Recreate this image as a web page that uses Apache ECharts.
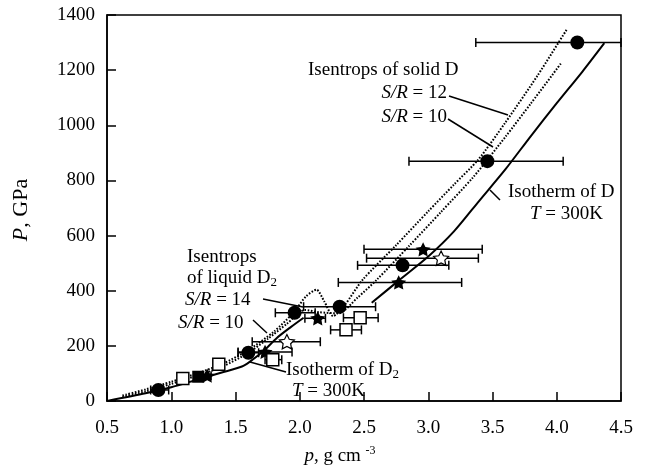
<!DOCTYPE html>
<html>
<head>
<meta charset="utf-8">
<script src="https://cdn.jsdelivr.net/npm/echarts@6/dist/echarts.min.js"></script>
<style>html,body{margin:0;padding:0;background:#fff}#c{width:653px;height:470px}</style>
</head>
<body>
<div id="c"></div>
<script>
// ---- axis ticks ----
const xMin = 0.5, xMax = 4.5, xStep = 0.5;
const yMin = 0, yMax = 1400, yStep = 200;

// ---- curves ----
const isothermD2 = [[0.5,0],[0.8,28],[1.0,50],[1.2,77],[1.4,104],[1.55,125],[1.61,142],[1.72,182],[1.82,228],[1.93,268],[2.03,302]];
const isothermD = [[2.56,356],[2.76,433],[3.0,524],[3.2,615],[3.4,728],[3.6,840],[3.8,962],[4.0,1080],[4.2,1195],[4.37,1298]];
const isentropS14 = [[0.62,20],[0.8,42],[1.0,70],[1.2,100],[1.4,135],[1.6,185],[1.8,252],[1.95,320],[2.05,380],[2.13,404],[2.19,362],[2.26,308],[2.35,348],[2.49,440],[2.75,565],[3.0,688],[3.2,785],[3.39,876],[3.6,1010],[3.85,1180],[4.08,1349]];
const isentropS10 = [[0.62,15],[0.8,35],[1.0,62],[1.2,92],[1.4,125],[1.6,175],[1.75,225],[1.9,280],[2.04,330],[2.15,322],[2.3,318],[2.45,375],[2.6,440],[2.85,562],[3.1,686],[3.35,812],[3.6,958],[3.8,1080],[4.04,1229]];

// ---- data points [x, y] and horizontal error ranges [lo, hi] ----
const filledCircles = [[0.9,40],[1.6,175],[1.96,320],[2.31,342],[2.8,492],[3.46,870],[4.16,1300]];
const filledCirclesErr = [[0.84,0.98],[1.52,1.68],[1.81,2.12],[2.03,2.59],[2.45,3.16],[2.85,4.05],[3.37,4.5]];
const filledStars = [[1.28,92],[1.73,178],[2.14,300],[2.77,430],[2.96,550]];
const filledStarsErr = [[1.25,1.31],[1.52,1.94],[2.04,2.2],[2.30,3.26],[2.5,3.42]];
const openStars = [[1.9,215],[3.1,518]];
const openStarsErr = [[1.63,2.16],[2.52,3.39]];
const openSquares = [[1.09,82],[1.37,133],[1.79,150],[2.36,258],[2.47,302]];
const openSquaresErr = [null,null,[1.73,1.86],[2.24,2.48],[2.34,2.61]];
const filledSquares = [[1.21,88]];

const FONT = '"Liberation Serif","DejaVu Serif",serif';
const STAR = 'path://M0,-10L2.94,-4.05L9.51,-3.09L4.76,1.55L5.88,8.09L0,5L-5.88,8.09L-4.76,1.55L-9.51,-3.09L-2.94,-4.05Z';

function errRows(pts, errs) {
  const rows = [];
  pts.forEach((p, i) => { if (errs[i]) rows.push([p[1], errs[i][0], errs[i][1]]); });
  return rows;
}
const errData = [].concat(
  errRows(filledCircles, filledCirclesErr),
  errRows(filledStars, filledStarsErr),
  errRows(openStars, openStarsErr),
  errRows(openSquares, openSquaresErr)
);

const chart = echarts.init(document.getElementById('c'), null, {renderer: 'canvas'});

const lineBase = {type: 'line', showSymbol: false, symbol: 'none', smooth: 0.25, z: 2, silent: true};

chart.setOption({
  animation: false,
  backgroundColor: '#fff',
  grid: {left: 107, right: 32, top: 15, bottom: 69, show: true, borderColor: '#000', borderWidth: 1.5, backgroundColor: 'transparent'},
  xAxis: {
    type: 'value', min: xMin, max: xMax, interval: xStep,
    axisLine: {show: true, lineStyle: {color: '#000', width: 1.5}},
    axisTick: {show: true, inside: true, length: 9, lineStyle: {color: '#000', width: 1.5}},
    splitLine: {show: false},
    axisLabel: {color: '#000', fontFamily: FONT, fontSize: 19, margin: 18, formatter: v => v.toFixed(1)}
  },
  yAxis: {
    type: 'value', min: yMin, max: yMax, interval: yStep,
    axisLine: {show: true, lineStyle: {color: '#000', width: 1.5}},
    axisTick: {show: true, inside: true, length: 9, lineStyle: {color: '#000', width: 1.5}},
    splitLine: {show: false},
    axisLabel: {color: '#000', fontFamily: FONT, fontSize: 19, margin: 12, formatter: v => String(v)}
  },
  series: [
    Object.assign({}, lineBase, {name: 'Isotherm of D2', data: isothermD2, lineStyle: {color: '#000', width: 2}}),
    Object.assign({}, lineBase, {name: 'Isotherm of D', data: isothermD, lineStyle: {color: '#000', width: 2}}),
    Object.assign({}, lineBase, {name: 'Isentrop S/R=14/12', data: isentropS14, lineStyle: {color: '#000', width: 2, type: [1.6, 1.6]}}),
    Object.assign({}, lineBase, {name: 'Isentrop S/R=10', data: isentropS10, lineStyle: {color: '#000', width: 2, type: [1.6, 1.6]}}),
    {
      type: 'custom', name: 'errors', z: 3, silent: true,
      data: errData,
      renderItem: function (params, api) {
        const y = api.value(0), lo = api.value(1), hi = api.value(2);
        const a = api.coord([lo, y]), b = api.coord([hi, y]);
        const h = 4.5;
        const st = {stroke: '#000', lineWidth: 1.5, fill: null};
        return {type: 'group', children: [
          {type: 'line', shape: {x1: a[0], y1: a[1], x2: b[0], y2: b[1]}, style: st},
          {type: 'line', shape: {x1: a[0], y1: a[1] - h, x2: a[0], y2: a[1] + h}, style: st},
          {type: 'line', shape: {x1: b[0], y1: b[1] - h, x2: b[0], y2: b[1] + h}, style: st}
        ]};
      }
    },
    {type: 'scatter', name: 'filled circles', data: filledCircles, symbol: 'circle', symbolSize: 14, z: 5, itemStyle: {color: '#000', opacity: 1}},
    {type: 'scatter', name: 'filled stars', data: filledStars, symbol: STAR, symbolSize: 15, symbolKeepAspect: true, z: 5, itemStyle: {color: '#000', opacity: 1}},
    {type: 'scatter', name: 'open stars', data: openStars, symbol: STAR, symbolSize: 15, symbolKeepAspect: true, z: 5, itemStyle: {color: '#fff', borderColor: '#000', borderWidth: 1.2, opacity: 1}},
    {type: 'scatter', name: 'open squares', data: openSquares, symbol: 'rect', symbolSize: 12, z: 5, itemStyle: {color: '#fff', borderColor: '#000', borderWidth: 1.5, opacity: 1}},
    {type: 'scatter', name: 'filled squares', data: filledSquares, symbol: 'rect', symbolSize: 12, z: 5, itemStyle: {color: '#000', opacity: 1}}
  ]
});

// ---- annotations ----
const rich = {
  i: {fontStyle: 'italic', fontFamily: FONT, fontSize: 19, fill: '#000', lineHeight: 22},
  n: {fontFamily: FONT, fontSize: 19, fill: '#000', lineHeight: 22},
  I: {fontStyle: 'italic', fontFamily: FONT, fontSize: 22, fill: '#000', lineHeight: 24},
  N: {fontFamily: FONT, fontSize: 22, fill: '#000', lineHeight: 24},
  sub: {fontFamily: FONT, fontSize: 13, fill: '#000', verticalAlign: 'bottom', lineHeight: 10},
  sup: {fontFamily: FONT, fontSize: 12, fill: '#000', verticalAlign: 'top', lineHeight: 12}
};
function T(x, y, text, align, rot) {
  return {type: 'text', x: x, y: y, rotation: rot || 0, z: 10, silent: true,
    style: {text: text, rich: rich, fontFamily: FONT, fontSize: 19, fill: '#000', align: align || 'left', verticalAlign: 'middle'}};
}
function L(x1, y1, x2, y2) {
  return {type: 'line', z: 10, silent: true, shape: {x1: x1, y1: y1, x2: x2, y2: y2}, style: {stroke: '#000', lineWidth: 1.5}};
}
chart.setOption({graphic: [
  T(308, 70, '{n|Isentrops of solid D}'),
  T(447, 93, '{i|S/R} {n|= 12}', 'right'),
  T(447, 117, '{i|S/R} {n|= 10}', 'right'),
  L(449, 96, 508, 115),
  L(448, 119, 493, 147),
  T(508, 192, '{n|Isotherm of D}'),
  T(530, 214, '{i|T} {n|= 300K}'),
  L(500, 200, 490, 190),
  T(187, 257, '{n|Isentrops}'),
  T(187, 278, '{n|of liquid D}{sub|2}'),
  T(185, 300, '{i|S/R} {n|= 14}'),
  T(178, 323, '{i|S/R} {n|= 10}'),
  L(263, 299, 303, 307),
  L(253, 320, 267, 333),
  T(286, 370, '{n|Isotherm of D}{sub|2}'),
  T(292, 391, '{i|T} {n|= 300K}'),
  L(286, 372, 250, 362),
  T(340, 456, '{i|p}{n|, g cm }{sup|-3}', 'center'),
  T(21, 210, '{I|P}{N|, GPa}', 'center', Math.PI / 2)
]});
</script>
</body>
</html>
